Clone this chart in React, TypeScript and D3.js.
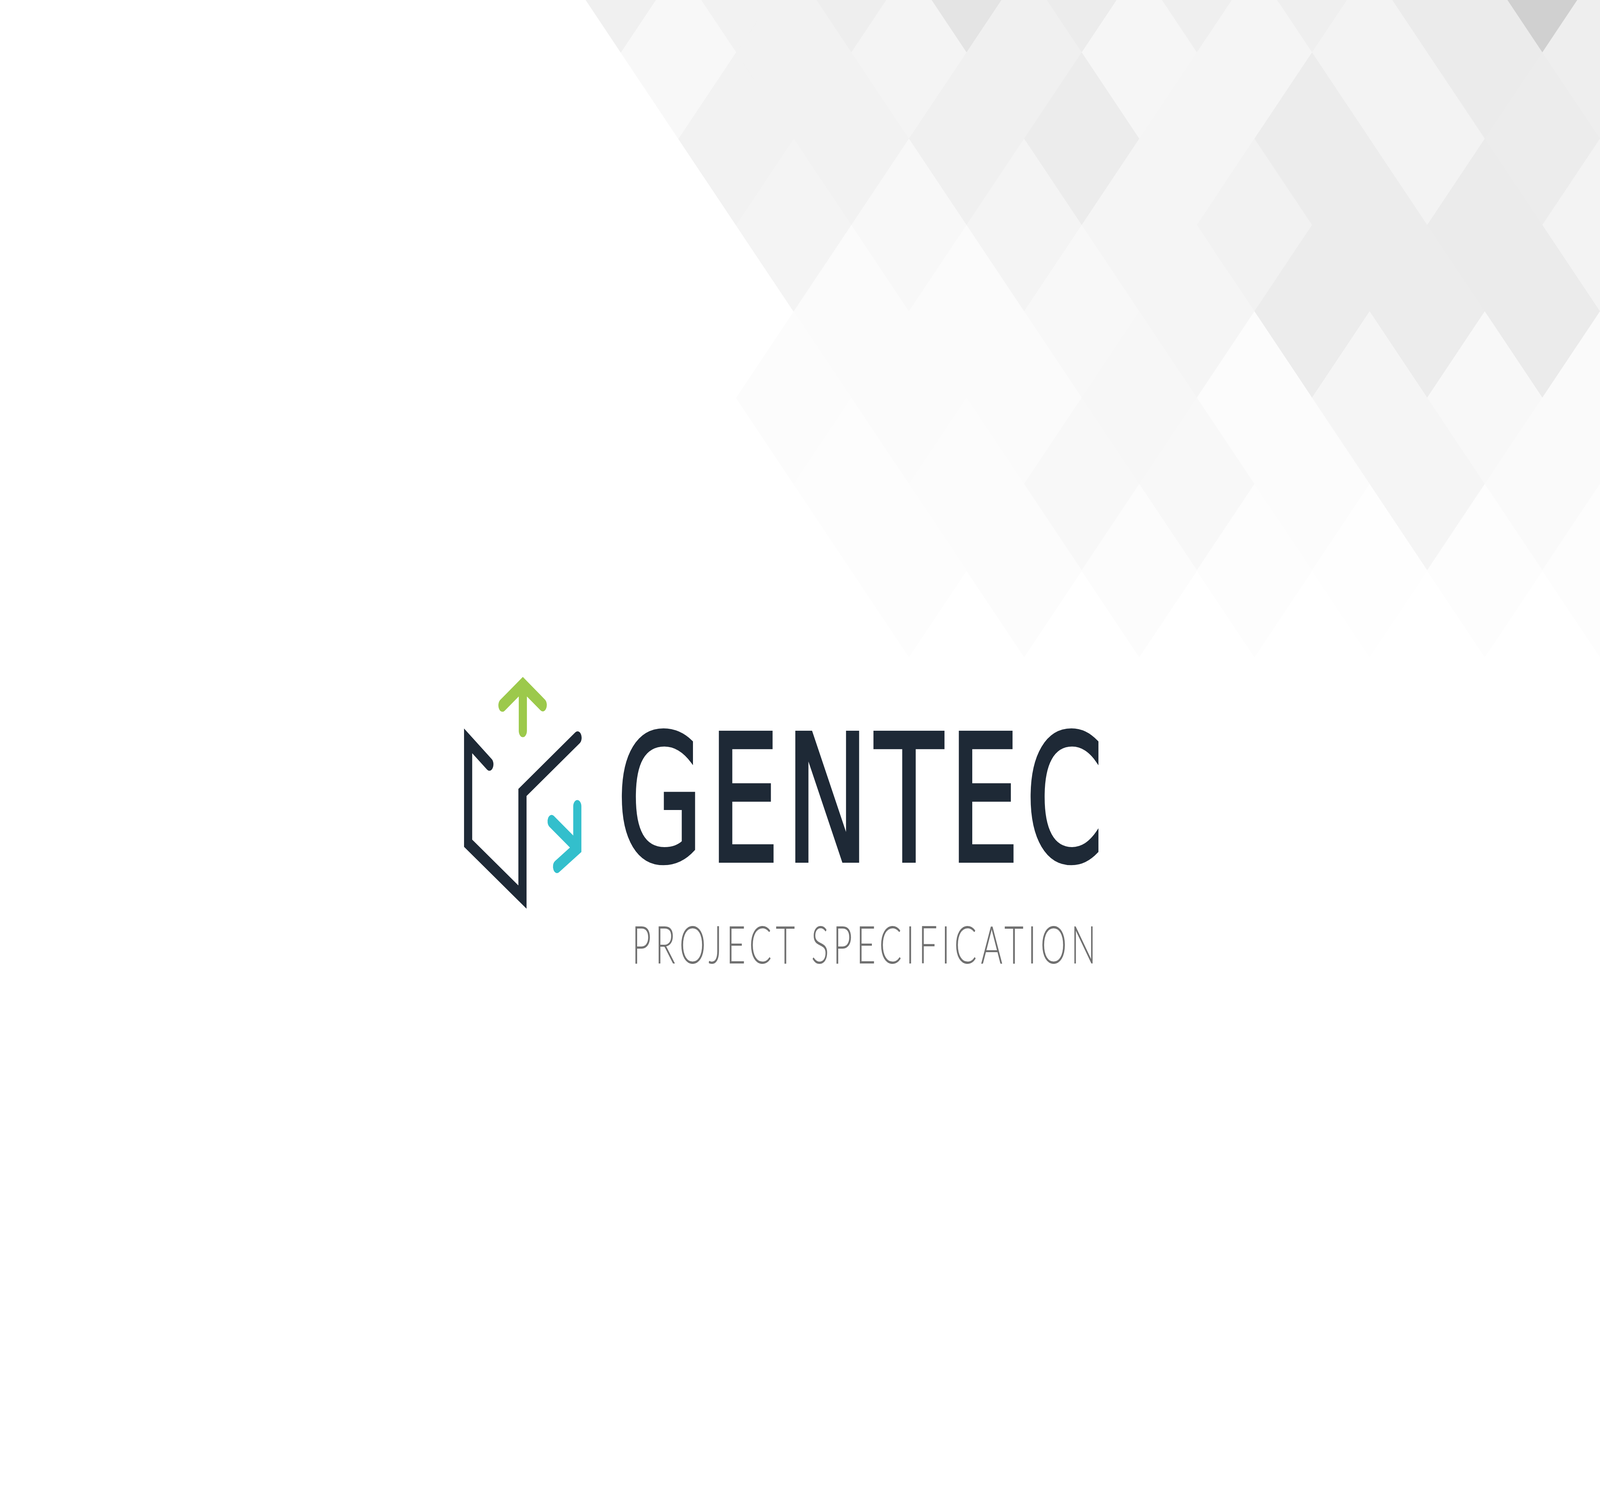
import React, { useEffect } from 'react';
import * as d3 from 'd3';

const W = 6477;
const H = 3810;

// ---- Background diamond lattice: gray level per tile (null = no tile) ----
// Each row lists tiles from left to right; tile columns step by 2 lattice units.
const rowM1 = [240, 242, 238, 228, 236, 239, 239, 235, 208, 239]; // j=-1, i=0..18
const row0 = [248, 242, 244, 240, 246, 245, 243, 235, 238]; // j=0, i=1..17
const row1 = [null, 242, 242, 240, 236, 245, 236, 243, 236, 238]; // j=1, i=0..18
const row2 = [null, 244, 248, 244, 245, 242, 236, 235, 243]; // j=2, i=1..17
const row3 = [null, 251, 251, 248, 245, 236, 236, 235, 250]; // j=3, i=2..18
const row4 = [252, 251, 251, 247, 252, 245, 248, 250]; // j=4, i=3..17
const row5 = [253, 252, 248, 248, 252, 245, 250]; // j=5, i=4..16
const row6 = [253, 252, 252, 253, 254, 253, 253]; // j=6, i=5..17

const latticeRows = [
  { j: -1, i0: 0, shades: rowM1 },
  { j: 0, i0: 1, shades: row0 },
  { j: 1, i0: 0, shades: row1 },
  { j: 2, i0: 1, shades: row2 },
  { j: 3, i0: 2, shades: row3 },
  { j: 4, i0: 3, shades: row4 },
  { j: 5, i0: 4, shades: row5 },
  { j: 6, i0: 5, shades: row6 },
];

// ---- Logo geometry (local units, logo box) ----
const cubeLine: [number, number][] = [
  [131, 257], [45, 197], [45, 459], [265, 597], [265, 329], [488, 189],
];
const greenChevron: [number, number][] = [[184, 106], [266.5, 53], [347, 105]];
const greenStem: [number, number][] = [[266.5, 60], [266.5, 171]];
const cyanUpperArm: [number, number][] = [[383, 403], [480, 465]];
const cyanStemArm: [number, number][] = [[487, 365], [487, 472], [405, 519]];

const title = 'GENTEC';
const subtitle = 'PROJECT SPECIFICATION';

const NAVY = '#1e2936';
const GREEN = '#9cc94b';
const CYAN = '#33bfcc';

export default function App() {
  useEffect(() => {
    document.body.style.margin = '0';
    document.body.style.overflow = 'hidden';
  }, []);

  // lattice scales
  const xLat = d3.scaleLinear().domain([0, 1]).range([2514, 2514 + 233.1]);
  const yLat = d3.scaleLinear().domain([0, 1]).range([135, 135 + 221]);
  const hw = xLat(1) - xLat(0);
  const hh = yLat(1) - yLat(0);

  const tiles: { key: string; d: string; fill: string }[] = [];
  latticeRows.forEach((row) => {
    row.shades.forEach((v, k) => {
      if (v == null) return;
      const i = row.i0 + 2 * k;
      const cx = xLat(i);
      const cy = yLat(row.j);
      const p = d3.path();
      p.moveTo(cx, cy - hh);
      p.lineTo(cx + hw, cy);
      p.lineTo(cx, cy + hh);
      p.lineTo(cx - hw, cy);
      p.closePath();
      const c = d3.rgb(v, v, v).formatHex();
      tiles.push({ key: `${i}_${row.j}`, d: p.toString(), fill: c });
    });
  });

  // logo scale
  const lx = d3.scaleLinear().domain([0, 1]).range([1850, 1851]);
  const ly = d3.scaleLinear().domain([0, 1]).range([1700, 1701]);
  const line = d3
    .line<[number, number]>()
    .x((d) => lx(d[0]))
    .y((d) => ly(d[1]));
  const sw = 33;

  return (
    <svg
      viewBox={`0 0 ${W} ${H}`}
      preserveAspectRatio="none"
      style={{ position: 'fixed', left: 0, top: 0, width: '100vw', height: '100vh', display: 'block', background: '#ffffff' }}
    >
      <rect x={0} y={0} width={W} height={H} fill="#ffffff" />
      <g>
        {tiles.map((t) => (
          <path key={t.key} d={t.d} fill={t.fill} stroke={t.fill} strokeWidth={1.5} />
        ))}
      </g>

      {/* logo mark */}
      <g fill="none" strokeLinejoin="miter" strokeMiterlimit={10}>
        <path d={line(cubeLine) || ''} stroke={NAVY} strokeWidth={sw} strokeLinecap="round" />
        <path d={line(greenStem) || ''} stroke={GREEN} strokeWidth={sw} strokeLinecap="round" />
        <path d={line(greenChevron) || ''} stroke={GREEN} strokeWidth={sw} strokeLinecap="round" />
        <path d={line(cyanUpperArm) || ''} stroke={CYAN} strokeWidth={sw} strokeLinecap="round" />
        <path d={line(cyanStemArm) || ''} stroke={CYAN} strokeWidth={sw} strokeLinecap="round" />
      </g>

      <text
        x={2497}
        y={2204}
        fontFamily="'DejaVu Sans', Verdana, sans-serif"
        fontSize={450}
        fill={NAVY}
        stroke={NAVY}
        strokeWidth={10}
        textLength={1969}
        lengthAdjust="spacing"
      >
        {title}
      </text>
      <text
        x={2558}
        y={2467}
        fontFamily="Lato, 'Open Sans', sans-serif"
        fontWeight={300}
        fontSize={135}
        fill="#707070"
        textLength={1879}
        lengthAdjust="spacing"
      >
        {subtitle}
      </text>
    </svg>
  );
}
